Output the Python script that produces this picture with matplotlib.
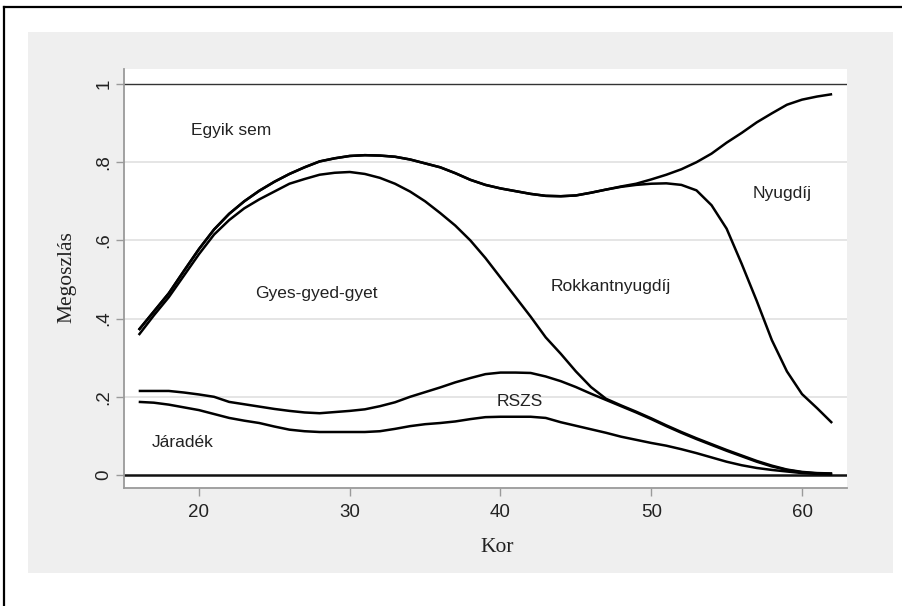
import matplotlib
matplotlib.use("Agg")
import matplotlib.pyplot as plt
from matplotlib.patches import Rectangle
from matplotlib.lines import Line2D

ages = list(range(16, 63))

jaradek = [0.187, 0.185, 0.180, 0.173, 0.166, 0.156, 0.146, 0.139, 0.133, 0.124,
           0.116, 0.112, 0.110, 0.110, 0.110, 0.110, 0.112, 0.118, 0.125, 0.130,
           0.133, 0.137, 0.143, 0.148, 0.149, 0.149, 0.149, 0.146, 0.135, 0.126,
           0.117, 0.108, 0.098, 0.090, 0.082, 0.075, 0.066, 0.056, 0.045, 0.034,
           0.025, 0.018, 0.013, 0.009, 0.005, 0.003, 0.002]

rszs = [0.215, 0.215, 0.215, 0.211, 0.206, 0.200, 0.187, 0.181, 0.175, 0.169,
        0.164, 0.160, 0.158, 0.161, 0.164, 0.168, 0.176, 0.186, 0.200, 0.212,
        0.224, 0.237, 0.248, 0.258, 0.262, 0.262, 0.261, 0.252, 0.240, 0.225,
        0.208, 0.192, 0.176, 0.160, 0.143, 0.125, 0.108, 0.092, 0.077, 0.062,
        0.048, 0.034, 0.022, 0.013, 0.007, 0.004, 0.003]

gyes = [0.358, 0.408, 0.455, 0.510, 0.565, 0.615, 0.652, 0.682, 0.705, 0.725,
        0.745, 0.757, 0.768, 0.773, 0.775, 0.770, 0.760, 0.745, 0.725, 0.700,
        0.670, 0.638, 0.600, 0.555, 0.505, 0.455, 0.405, 0.352, 0.310, 0.265,
        0.225, 0.195, 0.178, 0.162, 0.145, 0.127, 0.110, 0.094, 0.079, 0.064,
        0.050, 0.036, 0.024, 0.014, 0.008, 0.005, 0.004]

rokkant = [0.371, 0.418, 0.465, 0.522, 0.578, 0.628, 0.668, 0.700, 0.727, 0.750,
           0.770, 0.787, 0.802, 0.810, 0.816, 0.818, 0.817, 0.814, 0.807, 0.797,
           0.787, 0.772, 0.755, 0.742, 0.733, 0.726, 0.719, 0.714, 0.713, 0.715,
           0.722, 0.730, 0.737, 0.742, 0.745, 0.746, 0.742, 0.728, 0.690, 0.630,
           0.540, 0.445, 0.345, 0.265, 0.207, 0.171, 0.133]

nyugdij = [0.371, 0.418, 0.465, 0.522, 0.578, 0.628, 0.668, 0.700, 0.727, 0.750,
           0.770, 0.787, 0.802, 0.810, 0.816, 0.818, 0.817, 0.814, 0.807, 0.797,
           0.787, 0.772, 0.755, 0.742, 0.733, 0.726, 0.719, 0.714, 0.713, 0.715,
           0.722, 0.730, 0.738, 0.745, 0.756, 0.768, 0.782, 0.800, 0.822, 0.850,
           0.875, 0.902, 0.925, 0.947, 0.960, 0.968, 0.974]

series = [jaradek, rszs, gyes, rokkant, nyugdij]

labels = ["Egyik sem", "Gyes-gyed-gyet", "Rokkantnyugdíj", "Nyugdíj", "RSZS", "Járadék"]
label_x = [22.1, 27.8, 47.3, 58.7, 41.3, 18.9]
label_y = [0.88, 0.465, 0.481, 0.721, 0.187, 0.082]

xticks = [20, 30, 40, 50, 60]
yticks = [0, 0.2, 0.4, 0.6, 0.8, 1]
ytick_labels = ["0", ".2", ".4", ".6", ".8", "1"]

W, H = 903, 606
fig = plt.figure(figsize=(W / 100, H / 100), dpi=100)
fig.patch.set_facecolor("white")

def fx(px):
    return px / W

def fy(py):
    return 1 - py / H

# gray graph region
fig.patches.append(Rectangle((fx(28), fy(573)), fx(893) - fx(28), fy(32) - fy(573),
                             transform=fig.transFigure, facecolor="#efefef",
                             edgecolor="none", zorder=-10))
# outer border (left and top)
fig.lines.append(Line2D([fx(4.5), fx(4.5)], [fy(6.5), 0], transform=fig.transFigure,
                        color="black", lw=1.6, zorder=-5))
fig.lines.append(Line2D([fx(4.5), 1], [fy(6.5), fy(6.5)], transform=fig.transFigure,
                        color="black", lw=1.6, zorder=-5))

ax = fig.add_axes([fx(124), fy(488), fx(847) - fx(124), fy(69) - fy(488)])
ax.set_zorder(2)
ax.set_facecolor("white")
ax.set_xlim(15.025, 62.985)
ax.set_ylim(-0.0332, 1.0384)

for s in ["top", "right"]:
    ax.spines[s].set_visible(False)
for s in ["left", "bottom"]:
    ax.spines[s].set_color("#9a9a9a")
    ax.spines[s].set_linewidth(1.3)

for v in yticks[1:-1]:
    ax.axhline(v, color="#e3e3e3", lw=1.3, zorder=1)
ax.axhline(1, color="#333333", lw=1.0, zorder=2)
ax.axhline(0, color="#111111", lw=1.8, zorder=2)

for s in series:
    ax.plot(ages, s, color="black", lw=1.8, zorder=3, solid_capstyle="butt")

for t, x, y in zip(labels, label_x, label_y):
    ax.text(x, y, t, ha="center", va="center", fontsize=12.5,
            family="Liberation Sans", color="#222222", zorder=4)

ax.set_xticks(xticks)
ax.set_xticklabels([str(v) for v in xticks], family="Liberation Sans", fontsize=13.5)
ax.set_yticks(yticks)
ax.set_yticklabels(ytick_labels, family="Liberation Sans", fontsize=13.5,
                   rotation=90, va="center")
ax.tick_params(axis="both", direction="out", length=5.5, width=1.0, color="#9a9a9a",
               labelcolor="#222222")
ax.tick_params(axis="x", pad=6)
ax.tick_params(axis="y", pad=3)

fig.text(fx(497), fy(548), "Kor", ha="center", va="center", family="Liberation Serif",
         fontsize=15.5, color="#222222")
fig.text(fx(67), fy(277), "Megoszlás", ha="center", va="center", rotation=90,
         family="Liberation Serif", fontsize=15.5, color="#222222")

fig.savefig("out.png", dpi=100, facecolor="white")
